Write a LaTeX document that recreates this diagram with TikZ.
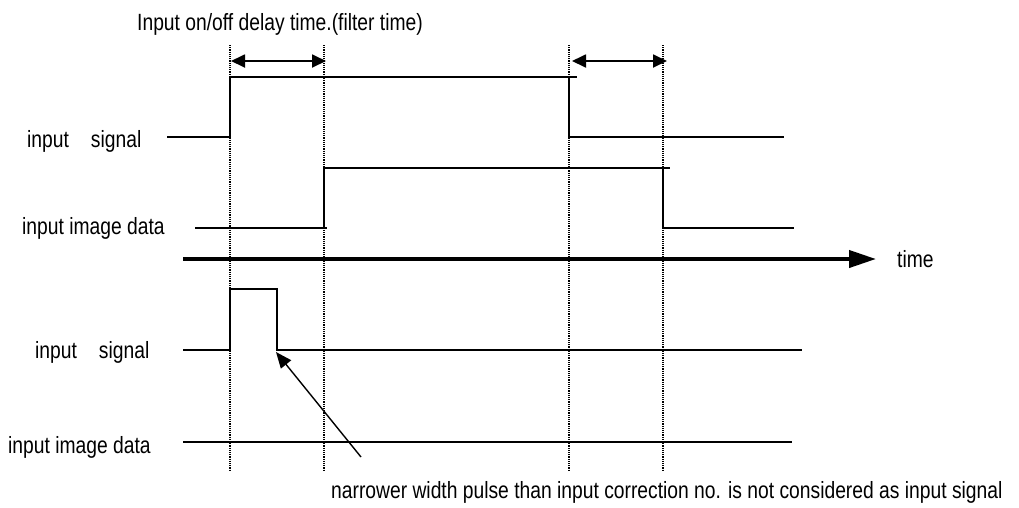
\documentclass[tikz,border=0pt]{standalone}
\usepackage{fontspec}
\setmainfont{Liberation Sans}[FakeStretch=0.82]
\usetikzlibrary{arrows.meta}
\begin{document}
\begin{tikzpicture}[x=1pt,y=-1pt,
  lbl/.style={inner sep=0pt,anchor=base west,font=\fontsize{23.5}{28}\selectfont},
  sig/.style={line width=1.8pt},
  guide/.style={line width=1.1pt,dash pattern=on 1.1pt off 1.1pt},
  span/.style={line width=1.8pt,{Triangle[length=14pt,width=13pt]}-{Triangle[length=14pt,width=13pt]}},
  axis/.style={line width=4pt,-{Triangle[length=27pt,width=17pt]}},
  note/.style={line width=1.4pt,-{Triangle[length=16pt,width=13pt]}}]
\useasboundingbox (0,0) rectangle (1019,507);
% labels
\node[lbl] (title) at (137,30) {Input on/off delay time.(filter time)};
\node[lbl] (sig1) at (27,147) {input\hspace{22pt}signal};
\node[lbl] (dat1) at (22,234) {input image data};
\node[lbl] (time) at (897,267) {time};
\node[lbl] (sig2) at (35,358) {input\hspace{22pt}signal};
\node[lbl] (dat2) at (8,453) {input image data};
\node[lbl] (noteT) at (331,498) {narrower width pulse than input correction no. is not considered as input signal};
% guide lines
\coordinate (g1t) at (230,45); \coordinate (g1b) at (230,470);
\coordinate (g2t) at (324,45); \coordinate (g2b) at (324,470);
\coordinate (g3t) at (569,45); \coordinate (g3b) at (569,470);
\coordinate (g4t) at (663,45); \coordinate (g4b) at (663,470);
\draw[guide] (g1t) -- (g1b);
\draw[guide] (g2t) -- (g2b);
\draw[guide] (g3t) -- (g3b);
\draw[guide] (g4t) -- (g4b);
% delay spans
\coordinate (a1) at (231,61); \coordinate (a2) at (326,61);
\coordinate (a3) at (572,61); \coordinate (a4) at (667,61);
\draw[span] (a1) -- (a2);
\draw[span] (a3) -- (a4);
% top input signal
\coordinate (s1a) at (167,137); \coordinate (s1b) at (230,77);
\coordinate (s1c) at (577,77); \coordinate (s1d) at (569,77);
\coordinate (s1e) at (784,137);
\draw[sig] (s1a) -| (s1b) -- (s1c);
\draw[sig] (s1d) |- (s1e);
% top image data
\coordinate (d1a) at (195,228); \coordinate (d1b) at (327,228);
\coordinate (d1c) at (324,228); \coordinate (d1d) at (670,168);
\coordinate (d1e) at (663,168); \coordinate (d1f) at (794,228);
\draw[sig] (d1a) -- (d1b);
\draw[sig] (d1c) |- (d1d);
\draw[sig] (d1e) |- (d1f);
% time axis
\coordinate (t0) at (183,259); \coordinate (t1) at (876,259);
\draw[axis] (t0) -- (t1);
% bottom input signal (narrow pulse)
\coordinate (p0) at (183,350); \coordinate (p1) at (230,289);
\coordinate (p2) at (277,350); \coordinate (p3) at (802,350);
\draw[sig] (p0) -| (p1) -| (p2) -- (p3);
% bottom image data
\coordinate (e0) at (183,442); \coordinate (e1) at (792,442);
\draw[sig] (e0) -- (e1);
% annotation arrow
\coordinate (n0) at (361,457); \coordinate (n1) at (276,352);
\draw[note] (n0) -- (n1);
\end{tikzpicture}
\end{document}
